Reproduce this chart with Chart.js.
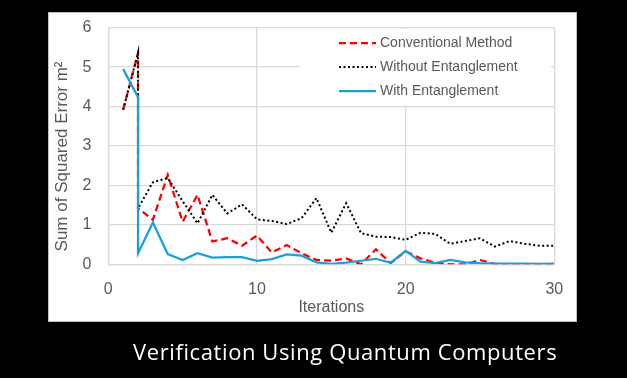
<!DOCTYPE html>
<html>
<head>
<meta charset="utf-8">
<script src="https://cdn.jsdelivr.net/npm/chart.js@4"></script>
<style>
	html, body { margin: 0; padding: 0; background: #000; }
	#wrap { position: relative; width: 627px; height: 378px; }
	#caption {
		position: absolute; left: 133px; top: 336px;
		color: #fff; font-family: "Open Sans", sans-serif; font-size: 22px;
		letter-spacing: 0.6px; line-height: 30px;
		white-space: nowrap;
	}
</style>
</head>
<body>
<div id="wrap">
	<canvas id="myChart" width="627" height="378"></canvas>
	<div id="caption">Verification Using Quantum Computers</div>
</div>
<script>
// iteration 2 appears twice (restart of the run)
var iterations = [1, 2, 2, 3, 4, 5, 6, 7, 8, 9, 10, 11, 12, 13, 14, 15, 16, 17, 18, 19, 20, 21, 22, 23, 24, 25, 26, 27, 28, 29, 30];
var conventional = [3.92, 5.36, 1.42, 1.13, 2.27, 1.08, 1.76, 0.58, 0.66, 0.47, 0.73, 0.30, 0.49, 0.28, 0.11, 0.09, 0.15, 0.0, 0.38, 0.03, 0.33, 0.15, 0.04, 0.0, 0.0, 0.11, 0.01, 0.0, 0.0, 0.0, 0.0];
var withoutEnt = [3.92, 5.36, 1.42, 2.08, 2.19, 1.60, 1.04, 1.76, 1.29, 1.52, 1.14, 1.10, 1.02, 1.17, 1.68, 0.80, 1.55, 0.79, 0.70, 0.69, 0.62, 0.80, 0.77, 0.52, 0.59, 0.66, 0.45, 0.59, 0.52, 0.47, 0.47];
var withEnt = [4.95, 4.24, 0.28, 1.06, 0.26, 0.11, 0.28, 0.17, 0.18, 0.18, 0.09, 0.13, 0.25, 0.22, 0.05, 0.01, 0.04, 0.09, 0.14, 0.04, 0.34, 0.07, 0.03, 0.11, 0.05, 0.03, 0.02, 0.02, 0.02, 0.01, 0.02];
var xTicks = [0, 10, 20, 30];
var yTicks = [0, 1, 2, 3, 4, 5, 6];

var seriesNames = ['Conventional Method', 'Without Entanglement', 'With Entanglement'];

function toPoints(values) {
	var pts = [];
	for (var i = 0; i < values.length; i++) {
		pts.push({x: iterations[i], y: values[i]});
	}
	return pts;
}

var textGray = '#595959';
var gridGray = '#d9d9d9';

// white panel behind the chart
var panelPlugin = {
	id: 'panel',
	beforeDraw(chart) {
		var ctx = chart.ctx;
		ctx.save();
		ctx.fillStyle = '#000';
		ctx.fillRect(0, 0, chart.width, chart.height);
		ctx.fillStyle = '#fff';
		ctx.fillRect(48, 12, 529, 310);
		ctx.strokeStyle = '#bfbfbf';
		ctx.lineWidth = 1;
		ctx.strokeRect(48.5, 12.5, 528, 309);
		ctx.restore();
	}
};

// y axis title + boxed legend inside the plot
var extrasPlugin = {
	id: 'extras',
	afterDatasetsDraw(chart) {
		var ctx = chart.ctx;
		ctx.save();
		ctx.translate(62, 156.5);
		ctx.rotate(-Math.PI / 2);
		ctx.fillStyle = textGray;
		ctx.font = '17px "Liberation Sans", Arial, sans-serif';
		ctx.textAlign = 'center';
		ctx.textBaseline = 'middle';
		ctx.fillText('Sum of Squared Error m\u00B2', 0, 0);
		ctx.restore();

		ctx.save();
		ctx.fillStyle = '#fff';
		ctx.fillRect(300, 29, 251, 76);
		var ds = chart.data.datasets;
		ctx.font = '14px "Liberation Sans", Arial, sans-serif';
		ctx.textBaseline = 'middle';
		for (var i = 0; i < ds.length; i++) {
			var y = 43 + i * 24;
			ctx.strokeStyle = ds[i].borderColor;
			ctx.lineWidth = ds[i].borderWidth;
			ctx.setLineDash(ds[i].borderDash || []);
			ctx.lineCap = ds[i].borderCapStyle || 'butt';
			ctx.beginPath();
			ctx.moveTo(339, y);
			ctx.lineTo(376, y);
			ctx.stroke();
			ctx.fillStyle = textGray;
			ctx.fillText(ds[i].label, 380, y);
		}
		ctx.restore();
	}
};

var ctx = document.getElementById('myChart').getContext('2d');
var chart = new Chart(ctx, {
	type: 'scatter',
	data: {
		datasets: [{
			label: seriesNames[0],
			data: toPoints(conventional),
			borderColor: '#ff0000',
			borderWidth: 2.25,
			borderDash: [7, 4],
			order: 2
		}, {
			label: seriesNames[1],
			data: toPoints(withoutEnt),
			borderColor: '#000000',
			borderWidth: 2,
			borderDash: [2, 2.5],
			order: 1
		}, {
			label: seriesNames[2],
			data: toPoints(withEnt),
			borderColor: '#1a9fd8',
			borderWidth: 2.25,
			order: 0
		}]
	},
	options: {
		responsive: false,
		animation: false,
		showLine: true,
		elements: {
			point: { radius: 0, hoverRadius: 0 },
			line: { tension: 0, fill: false }
		},
		layout: {
			padding: { left: 0, top: 27.7, right: 72.7, bottom: 57.7 }
		},
		plugins: {
			legend: { display: false },
			tooltip: { enabled: false }
		},
		scales: {
			x: {
				type: 'linear',
				min: 0,
				max: 30,
				afterBuildTicks(scale) {
					scale.ticks = xTicks.map(function (v) { return {value: v}; });
				},
				afterFit(scale) { scale.height = 56; },
				grid: { color: gridGray, lineWidth: 1.3, drawTicks: false },
				border: { color: gridGray, width: 1.3 },
				ticks: {
					color: textGray,
					padding: 16,
					font: { family: '"Liberation Sans", Arial, sans-serif', size: 16 }
				},
				title: {
					display: true,
					text: 'Iterations',
					color: textGray,
					padding: { top: 0, bottom: 3 },
					font: { family: '"Liberation Sans", Arial, sans-serif', size: 16 }
				}
			},
			y: {
				type: 'linear',
				min: 0,
				max: 6,
				afterBuildTicks(scale) {
					scale.ticks = yTicks.map(function (v) { return {value: v}; });
				},
				afterFit(scale) { scale.width = 108.3; },
				grid: { color: gridGray, lineWidth: 1.3, drawTicks: false },
				border: { color: gridGray, width: 1.3 },
				ticks: {
					color: textGray,
					padding: 17,
					font: { family: '"Liberation Sans", Arial, sans-serif', size: 16 }
				}
			}
		}
	},
	plugins: [panelPlugin, extrasPlugin]
});
</script>
</body>
</html>
